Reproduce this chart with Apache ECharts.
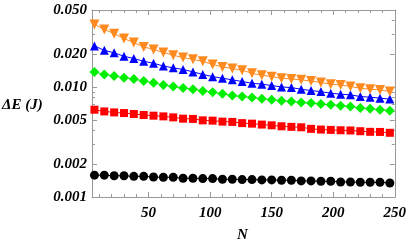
<!DOCTYPE html>
<html><head><meta charset="utf-8">
<script src="https://cdn.jsdelivr.net/npm/echarts@6/dist/echarts.min.js"></script>
<style>html,body{margin:0;padding:0;background:#fff}#c{width:409px;height:247px}</style>
</head><body><div id="c"></div>
<script>
const N = [6,14,22,30,38,46,54,62,70,78,86,94,102,110,118,126,134,142,150,158,166,174,182,190,198,206,214,222,230,238,246];
const orange = [0.0370,0.0333,0.0305,0.0275,0.0253,0.0231,0.0219,0.0206,0.0194,0.0185,0.0178,0.0171,0.0160,0.0152,0.0147,0.0142,0.0133,0.0128,0.0124,0.0120,0.0118,0.0116,0.0113,0.0110,0.0106,0.0104,0.0101,0.00973,0.00953,0.00940,0.00907];
const blue = [0.0236,0.0215,0.0204,0.0190,0.0181,0.0171,0.0164,0.0155,0.0149,0.0144,0.0137,0.0130,0.0124,0.0120,0.0116,0.0112,0.0108,0.0106,0.0103,0.0100,0.00986,0.00953,0.00926,0.00907,0.00877,0.00859,0.00847,0.00818,0.00807,0.00791,0.00775];
const green = [0.0137,0.0130,0.0126,0.0121,0.0118,0.0113,0.0109,0.0104,0.0101,0.0098,0.00953,0.00920,0.00896,0.00865,0.00835,0.00818,0.00801,0.00780,0.00764,0.00748,0.00738,0.00722,0.00713,0.00698,0.00689,0.00675,0.00665,0.00643,0.00634,0.00621,0.00608];
const red = [0.00621,0.00599,0.00587,0.00579,0.00568,0.00556,0.00548,0.00540,0.00529,0.00515,0.00512,0.00497,0.00494,0.00484,0.00481,0.00469,0.00464,0.00455,0.00448,0.00439,0.00434,0.00430,0.00416,0.00410,0.00407,0.00404,0.00402,0.00396,0.00391,0.00390,0.00383];
const black = [0.00158,0.00158,0.00156,0.00156,0.00154,0.00154,0.00152,0.00151,0.00151,0.00148,0.00148,0.00147,0.00147,0.00145,0.00145,0.00144,0.00144,0.00143,0.00143,0.00142,0.00142,0.00140,0.00140,0.00139,0.00139,0.00137,0.00137,0.00136,0.00136,0.00136,0.00134];
const xMajor = [50,100,150,200,250];
const xMinor = [10,20,30,40,60,70,80,90,110,120,130,140,160,170,180,190,210,220,230,240];
const yMajor = [0.001,0.002,0.005,0.01,0.02,0.05];
const yMinor = [0.003,0.004,0.006,0.007,0.008,0.009,0.03,0.04];

const FONT = 'Liberation Serif';
const GRAY = '#999999';
function xa(pos, ticks, len, labels, line) {
  return {type:'value', min:4, max:250, position:pos,
    axisLine:{show:line, onZero:false, lineStyle:{color:GRAY,width:1}},
    axisTick:{show:true, inside:true, length:len, customValues:ticks, lineStyle:{color:GRAY,width:1}},
    axisLabel:{show:labels, customValues:ticks, margin:9, color:'#000', fontFamily:FONT, fontStyle:'italic', fontWeight:'bold', fontSize:15},
    splitLine:{show:false}};
}
function ya(pos, ticks, len, labels, line) {
  return {type:'log', logBase:10, min:0.001, max:0.05, position:pos,
    axisLine:{show:line, onZero:false, lineStyle:{color:GRAY,width:1}},
    axisTick:{show:true, inside:true, length:len, customValues:ticks, lineStyle:{color:GRAY,width:1}},
    axisLabel:{show:labels, customValues:ticks, margin:5, color:'#000', fontFamily:FONT, fontStyle:'italic', fontWeight:'bold', fontSize:15,
      formatter:v=>Number(v).toFixed(3)},
    splitLine:{show:false}};
}
function s(name, data, color, symbol, size, rot) {
  return {name, type:'line', xAxisIndex:0, yAxisIndex:0, data:N.map((n,i)=>[n,data[i]]),
    symbol, symbolSize:size, symbolRotate:rot||0, showAllSymbol:true,
    lineStyle:{color, width:1}, itemStyle:{color, borderWidth:0}, animation:false};
}
const chart = echarts.init(document.getElementById('c'), null, {renderer:'canvas'});
chart.setOption({
  animation:false,
  grid:{left:92, right:12, top:10, bottom:50, containLabel:false},
  xAxis:[xa('bottom',xMajor,5,true,true), xa('bottom',xMinor,3,false,false), xa('top',xMajor,5,false,true), xa('top',xMinor,3,false,false)],
  yAxis:[ya('left',yMajor,5,true,true), ya('left',yMinor,3,false,false), ya('right',yMajor,5,false,true), ya('right',yMinor,3,false,false)],
  graphic:[
    {type:'text', left:2, top:98, style:{text:'ΔE (J)', fill:'#000', font:'italic bold 15px "Liberation Serif"'}},
    {type:'text', left:237, top:228, style:{text:'N', fill:'#000', font:'italic bold 15px "Liberation Serif"'}}
  ],
  series:[
    s('black', black, '#000000', 'circle', 9),
    s('red', red, '#ff0000', 'rect', 8),
    s('green', green, '#00ee00', 'diamond', 10),
    s('blue', blue, '#0000ff', 'triangle', 9),
    s('orange', orange, '#ff8a1f', 'triangle', 10, 180)
  ]
});
</script></body></html>
